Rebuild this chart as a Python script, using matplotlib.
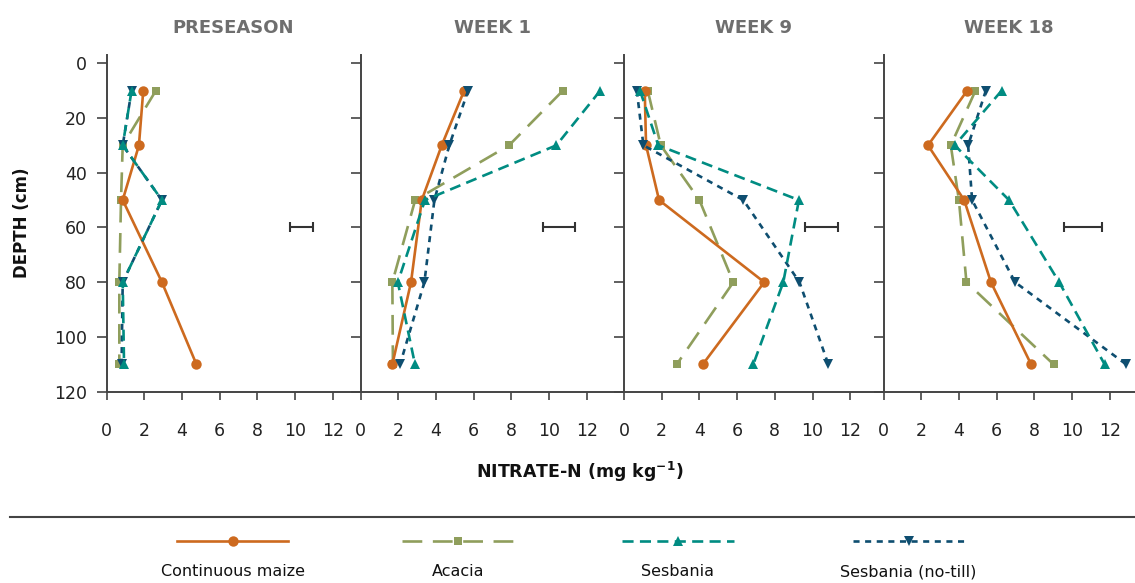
import matplotlib
matplotlib.use("Agg")
import matplotlib.pyplot as plt
from matplotlib.lines import Line2D
import numpy as np

plt.rcParams['font.family'] = ['DejaVu Sans']

# ---------------- data ----------------
depth = [10, 30, 50, 80, 110]
panels = ["PRESEASON", "WEEK 1", "WEEK 9", "WEEK 18"]
series_names = ["Continuous maize", "Acacia", "Sesbania", "Sesbania (no-till)"]

maize   = [[1.95, 1.72, 0.86, 2.94, 4.77],
           [5.50, 4.31, 3.25, 2.68, 1.69],
           [1.10, 1.17, 1.86, 7.44, 4.18],
           [4.44, 2.36, 4.28, 5.70, 7.83]]
acacia  = [[2.62, 0.86, 0.77, 0.68, 0.68],
           [10.74, 7.88, 2.90, 1.69, 1.72],
           [1.26, 1.95, 4.00, 5.80, 2.80],
           [4.88, 3.57, 4.00, 4.40, 9.02]]
sesbania = [[1.33, 0.86, 2.94, 0.86, 0.93],
            [12.72, 10.39, 3.42, 1.98, 2.89],
            [0.85, 1.82, 9.28, 8.45, 6.86],
            [6.27, 3.78, 6.66, 9.32, 11.73]]
notill  = [[1.33, 0.86, 2.94, 0.86, 0.80],
           [5.71, 4.71, 3.92, 3.39, 2.10],
           [0.68, 1.03, 6.33, 9.31, 10.84],
           [5.43, 4.49, 4.70, 6.98, 12.87]]

# LSD bars (centre, half-width) drawn at depth 60
lsd_center = [10.35, 10.52, 10.47, 10.60]
lsd_half   = [0.60, 0.84, 0.87, 1.00]
lsd_depth  = 60

xticks = [0, 2, 4, 6, 8, 10, 12]
yticks = [0, 20, 40, 60, 80, 100, 120]

# ---------------- styles ----------------
C_OR = '#CD6A1F'
C_OL = '#8F9E5C'
C_TE = '#008C82'
C_DB = '#0E4E70'
styles = [
    dict(color=C_OR, ls='-', marker='o', ms=7.5, lw=1.9, zorder=3),
    dict(color=C_OL, ls=(0, (7.5, 4.0)), marker='s', ms=5.6, lw=1.9, zorder=2),
    dict(color=C_TE, ls=(0, (4.2, 2.4)), marker='^', ms=6.6, lw=1.9, zorder=5),
    dict(color=C_DB, ls=(0, (2.3, 2.1)), marker='v', ms=6.6, lw=1.9, zorder=4),
]
all_series = [maize, acacia, sesbania, notill]

W, H = 1135, 583
fig = plt.figure(figsize=(W / 100, H / 100), dpi=100)

left_px = [106.5, 360.5, 624.0, 883.5]
right_px = left_px[1:] + [W]
px_per_unit = 18.85
top_px, bot_px = 55.0, 391.7
SPC = '#444444'

handles = []
for i, name in enumerate(panels):
    l, r = left_px[i], right_px[i]
    ax = fig.add_axes([l / W, 1 - bot_px / H, (r - l) / W, (bot_px - top_px) / H])
    for j, s in enumerate(all_series):
        st = styles[j]
        h, = ax.plot(s[i], depth, color=st['color'], linestyle=st['ls'],
                     marker=st['marker'], markersize=st['ms'], linewidth=st['lw'],
                     markeredgewidth=0, zorder=st['zorder'], clip_on=False)
        if i == 0:
            handles.append(h)
    ax.errorbar(lsd_center[i], lsd_depth, xerr=lsd_half[i], fmt='none',
                ecolor='#333333', elinewidth=1.5, capsize=3.6, capthick=1.5)
    ax.set_xlim(0, (r - l) / px_per_unit)
    ax.set_ylim(120, -3)
    ax.set_xticks(xticks)
    ax.set_yticks(yticks)
    for sp in ['top', 'right']:
        ax.spines[sp].set_visible(False)
    for sp in ['left', 'bottom']:
        ax.spines[sp].set_color(SPC)
        ax.spines[sp].set_linewidth(1.4)
    ax.tick_params(axis='y', direction='out', length=7, width=1.2, color=SPC,
                   pad=7, labelsize=12.5, labelcolor='#222222')
    ax.tick_params(axis='x', direction='out', length=5.5, width=1.2, color=SPC,
                   pad=16, labelsize=12.5, labelcolor='#222222')
    if i > 0:
        ax.tick_params(axis='y', labelleft=False)
    ax.set_title(name, fontsize=13, fontweight='bold', color='#6E6E6E', pad=16)
    ax.set_facecolor('none')

fig.text(22 / W, 1 - 223 / H, 'DEPTH (cm)', rotation=90, ha='center', va='center',
         fontsize=12, fontweight='bold', color='#111111')
fig.text(580 / W, 1 - 471.5 / H, r'NITRATE-N (mg kg$^{\mathbf{-1}}$)',
         ha='center', va='center', fontsize=12.5, fontweight='bold', color='#111111')

# separator line
fig.add_artist(Line2D([10 / W, 1.0], [1 - 517 / H, 1 - 517 / H],
                      transform=fig.transFigure, color=SPC, lw=1.5))

# legend: handle on top, label underneath
leg_cx = [232.5, 458, 678, 909]
lab_cx = [233, 458, 678, 908.5]
for k, h in enumerate(handles):
    lg = fig.legend([h], [''], loc='center', bbox_to_anchor=(leg_cx[k] / W, 1 - 542 / H),
                    handlelength=7.0, handletextpad=0, borderpad=0, borderaxespad=0,
                    frameon=False, numpoints=1, fontsize=11.5)
    fig.text(lab_cx[k] / W, 1 - 572 / H, series_names[k], ha='center', va='center',
             fontsize=11.5, color='#111111')

fig.savefig('out.png', dpi=100)
